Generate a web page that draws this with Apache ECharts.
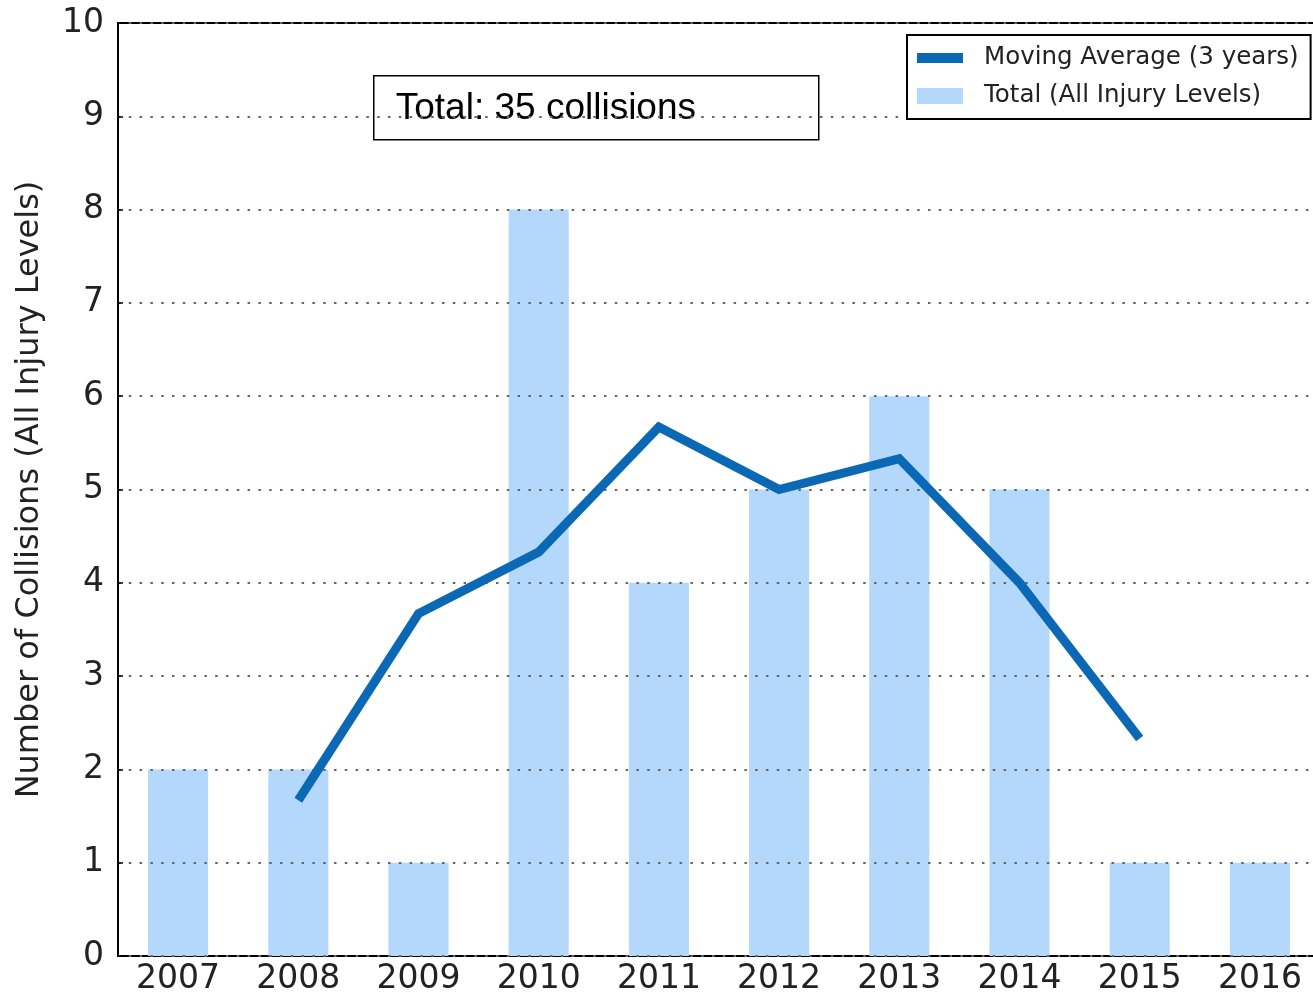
<!DOCTYPE html>
<html>
<head>
<meta charset="utf-8">
<script src="https://cdn.jsdelivr.net/npm/echarts@6/dist/echarts.min.js"></script>
<style>
  html, body { margin: 0; padding: 0; background: #fff; }
  #chart { width: 1313px; height: 1000px; }
</style>
</head>
<body>
<div id="chart"></div>
<script>
// data
const years = ['2007', '2008', '2009', '2010', '2011', '2012', '2013', '2014', '2015', '2016'];
const totals = [2, 2, 1, 8, 4, 5, 6, 5, 1, 1];
const movingAvg = [null, 1.67, 3.67, 4.33, 5.67, 5, 5.33, 4, 2.33, null];
const yTicks = [0, 1, 2, 3, 4, 5, 6, 7, 8, 9, 10];

const chart = echarts.init(document.getElementById('chart'));

const font = 'DejaVu Sans';
const lineColor = '#0a68b4';
const barColor = '#b3d8fb';

// thick short line for the legend (tiny corner dots keep the box 46x16)
const lineIcon = 'path://M0,3h46v10h-46z M0,0h0.01v0.01h-0.01z M45.99,15.99h0.01v0.01h-0.01z';

chart.setOption({
  animation: false,
  backgroundColor: '#fff',
  grid: {
    left: 118,
    top: 23,
    width: 1202,      // plot runs past the right edge of the picture
    height: 933,
    outerBoundsMode: 'none',
    containLabel: false,
    show: true,
    borderColor: '#000',
    borderWidth: 2,
    backgroundColor: 'transparent'
  },
  legend: {
    orient: 'vertical',
    left: 907,
    top: 35,
    backgroundColor: '#fff',
    borderColor: '#000',
    borderWidth: 2,
    padding: [10, 12, 10, 10],
    itemWidth: 46,
    itemHeight: 16,
    itemGap: 12,
    textStyle: {
      fontFamily: font,
      fontSize: 24.5,
      lineHeight: 26,
      color: '#222',
      padding: [0, 0, 0, 16]
    },
    data: [
      { name: 'Moving Average (3 years)', icon: lineIcon, itemStyle: { color: lineColor } },
      { name: 'Total (All Injury Levels)', icon: 'rect', itemStyle: { color: barColor } }
    ],
    z: 20
  },
  xAxis: {
    type: 'category',
    data: years,
    axisLine: { lineStyle: { color: '#000', width: 2 } },
    axisTick: { show: false },
    axisLabel: {
      fontFamily: font,
      fontSize: 33,
      color: '#222',
      margin: 7
    }
  },
  yAxis: {
    type: 'value',
    min: yTicks[0],
    max: yTicks[yTicks.length - 1],
    interval: 1,
    z: 3,
    name: 'Number of Collisions (All Injury Levels)',
    nameLocation: 'middle',
    nameGap: 72,
    nameTextStyle: {
      fontFamily: font,
      fontSize: 32,
      color: '#222'
    },
    axisLine: { show: true, lineStyle: { color: '#000', width: 2 } },
    axisTick: { show: true, inside: true, length: 5, lineStyle: { color: '#000', width: 1.5 } },
    axisLabel: {
      fontFamily: font,
      fontSize: 33,
      color: '#222',
      margin: 14
    },
    splitLine: {
      show: true,
      lineStyle: { color: '#666', width: 2, type: [2.5, 8.3] }
    }
  },
  series: [
    {
      name: 'Moving Average (3 years)',
      type: 'line',
      data: movingAvg,
      z: 5,
      symbol: 'none',
      connectNulls: false,
      lineStyle: { color: lineColor, width: 9, join: 'miter', cap: 'butt' },
      itemStyle: { color: lineColor }
    },
    {
      name: 'Total (All Injury Levels)',
      type: 'bar',
      data: totals,
      z: 1,
      barWidth: '50%',
      itemStyle: { color: barColor }
    }
  ],
  graphic: [
    {
      type: 'group',
      left: 373,
      top: 75,
      z: 30,
      children: [
        {
          type: 'rect',
          shape: { x: 0, y: 0, width: 445, height: 64 },
          style: { fill: '#fff', stroke: '#000', lineWidth: 1.5 }
        },
        {
          type: 'text',
          x: 22,
          y: 33,
          style: {
            text: 'Total: 35 collisions',
            fontFamily: 'Liberation Sans',
            fontSize: 37,
            fill: '#000',
            verticalAlign: 'middle'
          }
        }
      ]
    }
  ]
});
</script>
</body>
</html>
